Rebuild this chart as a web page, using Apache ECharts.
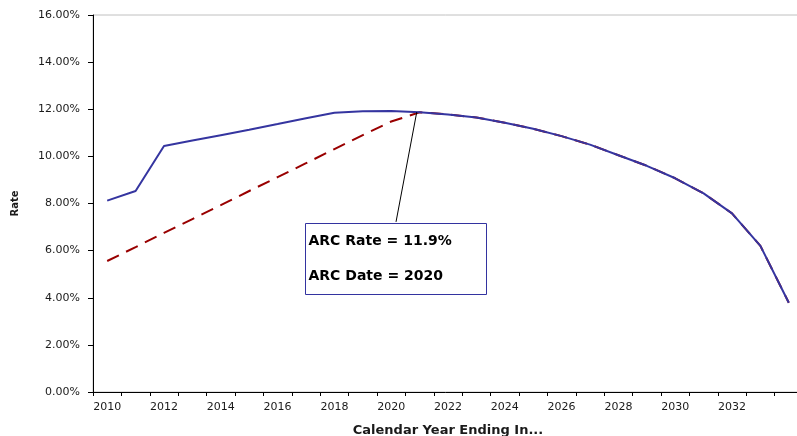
<!DOCTYPE html>
<html>
<head>
<meta charset="utf-8">
<script src="https://cdn.jsdelivr.net/npm/echarts@6/dist/echarts.min.js"></script>
<style>
  html, body { margin: 0; padding: 0; background: #fff; }
  #chart { width: 797px; height: 436px; }
</style>
</head>
<body>
<div id="chart"></div>
<script>
// ---- data ----
const years = ['2010','2011','2012','2013','2014','2015','2016','2017','2018','2019','2020','2021',
               '2022','2023','2024','2025','2026','2027','2028','2029','2030','2031','2032','2033','2034'];
const rateSeries = [8.12, 8.53, 10.44, 10.67, 10.90, 11.13, 11.37, 11.62, 11.85, 11.92, 11.93, 11.87,
                    11.78, 11.65, 11.43, 11.17, 10.86, 10.50, 10.05, 9.60, 9.07, 8.43, 7.58, 6.20, 3.79];
const arcSeries  = [5.56, 6.15, 6.75, 7.34, 7.93, 8.53, 9.12, 9.71, 10.31, 10.90, 11.48, 11.87,
                    11.78, 11.65, 11.43, 11.17, 10.86, 10.50, 10.05, 9.60, 9.07, 8.43, 7.58, 6.20, 3.79];
const yTicks = { min: 0, max: 16, step: 2 };
const arcText = ['ARC Rate = 11.9%', 'ARC Date = 2020'];
// arrow from annotation box to the ARC point (x in category-index units, y in %)
const arrowFrom = [10.17, 7.22];
const arrowTo = [10.90, 11.88];

const chart = echarts.init(document.getElementById('chart'), null, { renderer: 'canvas' });
const txt = '#1a1a1a';
const font = 'DejaVu Sans';

chart.setOption({
  animation: false,
  backgroundColor: '#ffffff',
  grid: {
    left: 93, right: -6, top: 15, bottom: 44,
    show: true, borderColor: '#c0c0c0', borderWidth: 1,
    outerBoundsMode: 'none', containLabel: false
  },
  xAxis: [{
    type: 'category',
    data: years,
    boundaryGap: true,
    name: 'Calendar Year Ending In...',
    nameLocation: 'middle',
    nameGap: 32,
    nameTextStyle: { fontFamily: font, fontWeight: 'bold', fontSize: 13, color: txt },
    axisLine: { onZero: false, lineStyle: { color: '#000', width: 1 } },
    axisTick: { show: true, interval: 0, length: 4, alignWithLabel: false, lineStyle: { color: '#000' } },
    axisLabel: { interval: (i) => i % 2 === 0 && i < 24, fontFamily: font, fontSize: 11, color: txt, margin: 10 },
    splitLine: { show: false }
  }, {
    type: 'value', min: -0.5, max: 24.5, show: false
  }],
  yAxis: {
    type: 'value',
    min: yTicks.min, max: yTicks.max, interval: yTicks.step,
    name: 'Rate',
    nameLocation: 'middle',
    nameGap: 73,
    nameRotate: 90,
    nameTextStyle: { fontFamily: font, fontWeight: 'bold', fontSize: 10, color: txt },
    axisLine: { show: true, onZero: false, lineStyle: { color: '#000', width: 1 } },
    axisTick: { show: true, length: 5, lineStyle: { color: '#000' } },
    axisLabel: { fontFamily: font, fontSize: 11, color: txt, margin: 13,
      formatter: v => v.toFixed(2) + '%' },
    splitLine: { show: false }
  },
  series: [{
    name: 'ARC',
    type: 'line',
    data: arcSeries,
    showSymbol: false,
    symbol: 'none',
    lineStyle: { color: '#990000', width: 2, type: [13, 8] },
    z: 2
  }, {
    name: 'Rate',
    type: 'line',
    data: rateSeries,
    showSymbol: false,
    symbol: 'none',
    lineStyle: { color: '#3535a0', width: 2 },
    z: 3
  }, {
    name: 'arrow',
    type: 'line',
    xAxisIndex: 1,
    data: [],
    z: 5,
    markLine: {
      silent: true,
      animation: false,
      symbol: ['none', 'arrow'],
      symbolSize: [0, 9],
      label: { show: false },
      lineStyle: { color: '#000', width: 1, type: 'solid' },
      emphasis: { disabled: true },
      data: [[{ coord: arrowFrom }, { coord: arrowTo }]]
    }
  }],
  graphic: [{
    type: 'group',
    left: 305, top: 223,
    z: 10,
    children: [{
      type: 'rect',
      shape: { x: 0, y: 0, width: 181, height: 71 },
      style: { fill: '#fff', stroke: '#3333a0', lineWidth: 1 }
    }, {
      type: 'text',
      x: 3, y: 18,
      style: { text: arcText[0], fontFamily: font, fontWeight: 'bold', fontSize: 14, fill: '#000', verticalAlign: 'middle' }
    }, {
      type: 'text',
      x: 3, y: 53,
      style: { text: arcText[1], fontFamily: font, fontWeight: 'bold', fontSize: 14, fill: '#000', verticalAlign: 'middle' }
    }]
  }]
});
</script>
</body>
</html>
